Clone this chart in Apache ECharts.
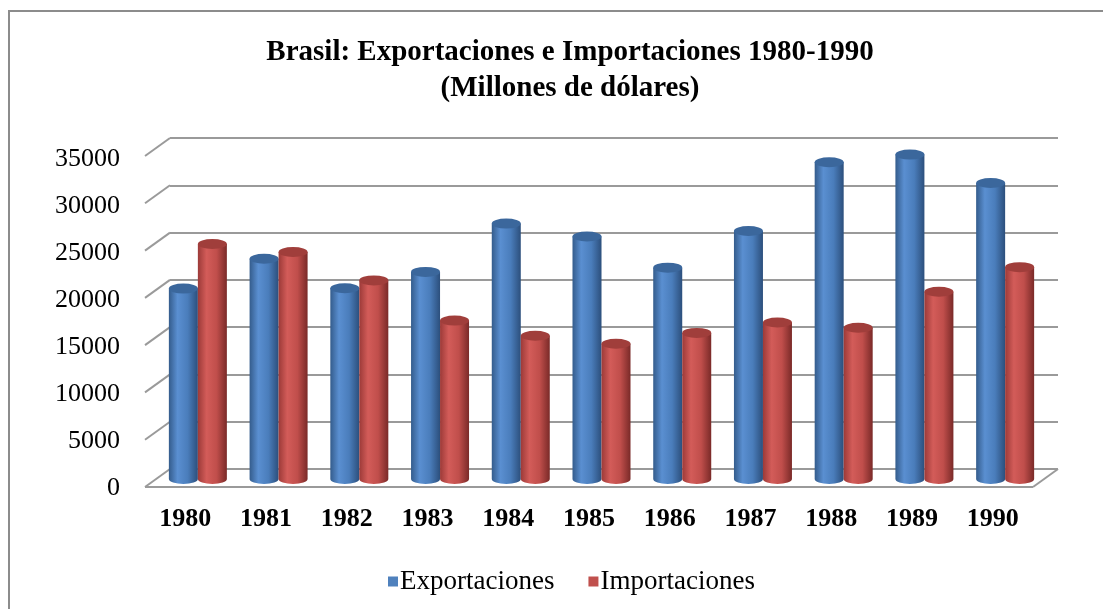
<!doctype html>
<html>
<head>
    <meta charset="UTF-8">
    <title>Brasil: Exportaciones e Importaciones 1980-1990</title>
    <script src="https://cdn.jsdelivr.net/npm/echarts@6/dist/echarts.min.js"></script>
    <style>
        html, body { margin: 0; padding: 0; background: #fff; }
        #main { width: 1103px; height: 609px; }
    </style>
</head>
<body>
<div id="main"></div>
<script>
    var years = ['1980', '1981', '1982', '1983', '1984', '1985', '1986', '1987', '1988', '1989', '1990'];
    var exportaciones = [20132, 23293, 20175, 21899, 27005, 25639, 22349, 26224, 33500, 34300, 31300];
    var importaciones = [24850, 24000, 21000, 16750, 15150, 14300, 15450, 16550, 16000, 19800, 22400];
    var yTicks = [0, 5000, 10000, 15000, 20000, 25000, 30000, 35000];

    var font = 'Liberation Serif, Times New Roman, serif';
    var gridColor = '#9a9a9a';
    var barWidth = 29;
    var depthX = 25, depthY = 18;

    var blueBody = [
        {offset: 0, color: '#345c8c'},
        {offset: 0.3, color: '#5a8fd1'},
        {offset: 0.65, color: '#4a7dbb'},
        {offset: 1, color: '#2c4f7c'}
    ];
    var redBody = [
        {offset: 0, color: '#9c3a38'},
        {offset: 0.3, color: '#d35c59'},
        {offset: 0.65, color: '#c04e4b'},
        {offset: 1, color: '#7a2a28'}
    ];

    function pairs(values) {
        return values.map(function (v, i) { return [i, v]; });
    }

    // cilindro tipo Excel 3D
    var cylinder = function (side, stops, topColor) {
        return function (params, api) {
            var cat = api.value(0);
            var top = api.coord([cat, api.value(1)]);
            var base = api.coord([cat, 0]);
            var rx = barWidth / 2, ry = 5;
            var cx = top[0] + side * rx;
            var x0 = cx - rx, x1 = cx + rx;
            var body = 'M' + x0 + ' ' + top[1] + 'L' + x0 + ' ' + base[1] +
                'A' + rx + ' ' + ry + ' 0 0 0 ' + x1 + ' ' + base[1] +
                'L' + x1 + ' ' + top[1] + 'Z';
            var cap = 'M' + x0 + ' ' + top[1] +
                'A' + rx + ' ' + ry + ' 0 1 0 ' + x1 + ' ' + top[1] +
                'A' + rx + ' ' + ry + ' 0 1 0 ' + x0 + ' ' + top[1] + 'Z';
            return {
                type: 'group',
                children: [
                    {
                        type: 'path',
                        shape: {pathData: body},
                        style: {fill: new echarts.graphic.LinearGradient(0, 0, 1, 0, stops)}
                    },
                    {
                        type: 'path',
                        shape: {pathData: cap},
                        style: {fill: topColor}
                    }
                ]
            };
        };
    };

    // lineas de profundidad de la pared y del piso
    var depthLines = function (params, api) {
        var cs = params.coordSys;
        var p = api.coord([0, api.value(0)]);
        var style = {stroke: gridColor, lineWidth: 2};
        var children = [{
            type: 'line',
            shape: {x1: cs.x - depthX, y1: p[1] + depthY, x2: cs.x, y2: p[1]},
            style: style
        }];
        if (api.value(0) === 0) {
            children.push({
                type: 'line',
                shape: {x1: cs.x + cs.width, y1: p[1], x2: cs.x + cs.width - depthX, y2: p[1] + depthY},
                style: style
            });
            children.push({
                type: 'line',
                shape: {x1: cs.x - depthX, y1: p[1] + depthY, x2: cs.x + cs.width - depthX, y2: p[1] + depthY},
                style: style
            });
        }
        return {type: 'group', children: children};
    };

    var myChart = echarts.init(document.getElementById('main'));

    var option = {
        animation: false,
        title: {
            text: 'Brasil: Exportaciones e Importaciones 1980-1990\n(Millones de dólares)',
            left: 565,
            textAlign: 'center',
            top: 30,
            textStyle: {
                fontFamily: font,
                fontSize: 29,
                fontWeight: 'bold',
                color: '#000',
                lineHeight: 36
            }
        },
        legend: {
            left: 383,
            top: 563,
            icon: 'rect',
            itemWidth: 10,
            itemHeight: 10,
            itemGap: 34,
            textStyle: {fontFamily: font, fontSize: 27, color: '#000', padding: [0, 0, 0, -3]},
            data: ['Exportaciones', 'Importaciones']
        },
        graphic: [{
            type: 'rect',
            shape: {x: 9, y: 11, width: 1110, height: 620},
            style: {fill: 'none', stroke: '#8c8c8c', lineWidth: 2},
            silent: true
        }],
        grid: [
            {left: 170, right: 45, top: 138, bottom: 140},
            {left: 145, right: 70, top: 159, bottom: 121},
            {left: 157.5, right: 57.5, top: 148, bottom: 130}
        ],
        xAxis: [
            {type: 'category', gridIndex: 0, data: years, show: false},
            {
                type: 'category', gridIndex: 1, data: years,
                axisLine: {show: false}, axisTick: {show: false},
                axisLabel: {fontFamily: font, fontSize: 26, fontWeight: 'bold', color: '#000', margin: 18}
            },
            {type: 'category', gridIndex: 2, data: years, show: false}
        ],
        yAxis: [
            {
                type: 'value', gridIndex: 0, min: 0, max: 35000, interval: 5000,
                axisLine: {show: false}, axisTick: {show: false}, axisLabel: {show: false},
                splitLine: {lineStyle: {color: gridColor, width: 2}}
            },
            {
                type: 'value', gridIndex: 1, min: 0, max: 35000, interval: 5000,
                axisLine: {show: false}, axisTick: {show: false}, splitLine: {show: false},
                axisLabel: {
                    fontFamily: font, fontSize: 26, color: '#000', margin: 25,
                    formatter: function (v) { return String(v); }
                }
            },
            {type: 'value', gridIndex: 2, min: 0, max: 35000, show: false}
        ],
        series: [
            {
                type: 'custom',
                xAxisIndex: 0, yAxisIndex: 0,
                renderItem: depthLines,
                data: yTicks.map(function (v) { return [v]; }),
                encode: {y: 0},
                silent: true
            },
            {
                name: 'Exportaciones',
                type: 'custom',
                xAxisIndex: 2, yAxisIndex: 2,
                itemStyle: {color: '#4f81bd'},
                renderItem: cylinder(-1, blueBody, '#3b679c'),
                encode: {x: 0, y: 1},
                data: pairs(exportaciones)
            },
            {
                name: 'Importaciones',
                type: 'custom',
                xAxisIndex: 2, yAxisIndex: 2,
                itemStyle: {color: '#c0504d'},
                renderItem: cylinder(1, redBody, '#a03e3b'),
                encode: {x: 0, y: 1},
                data: pairs(importaciones)
            }
        ]
    };

    myChart.setOption(option);
</script>
</body>
</html>
